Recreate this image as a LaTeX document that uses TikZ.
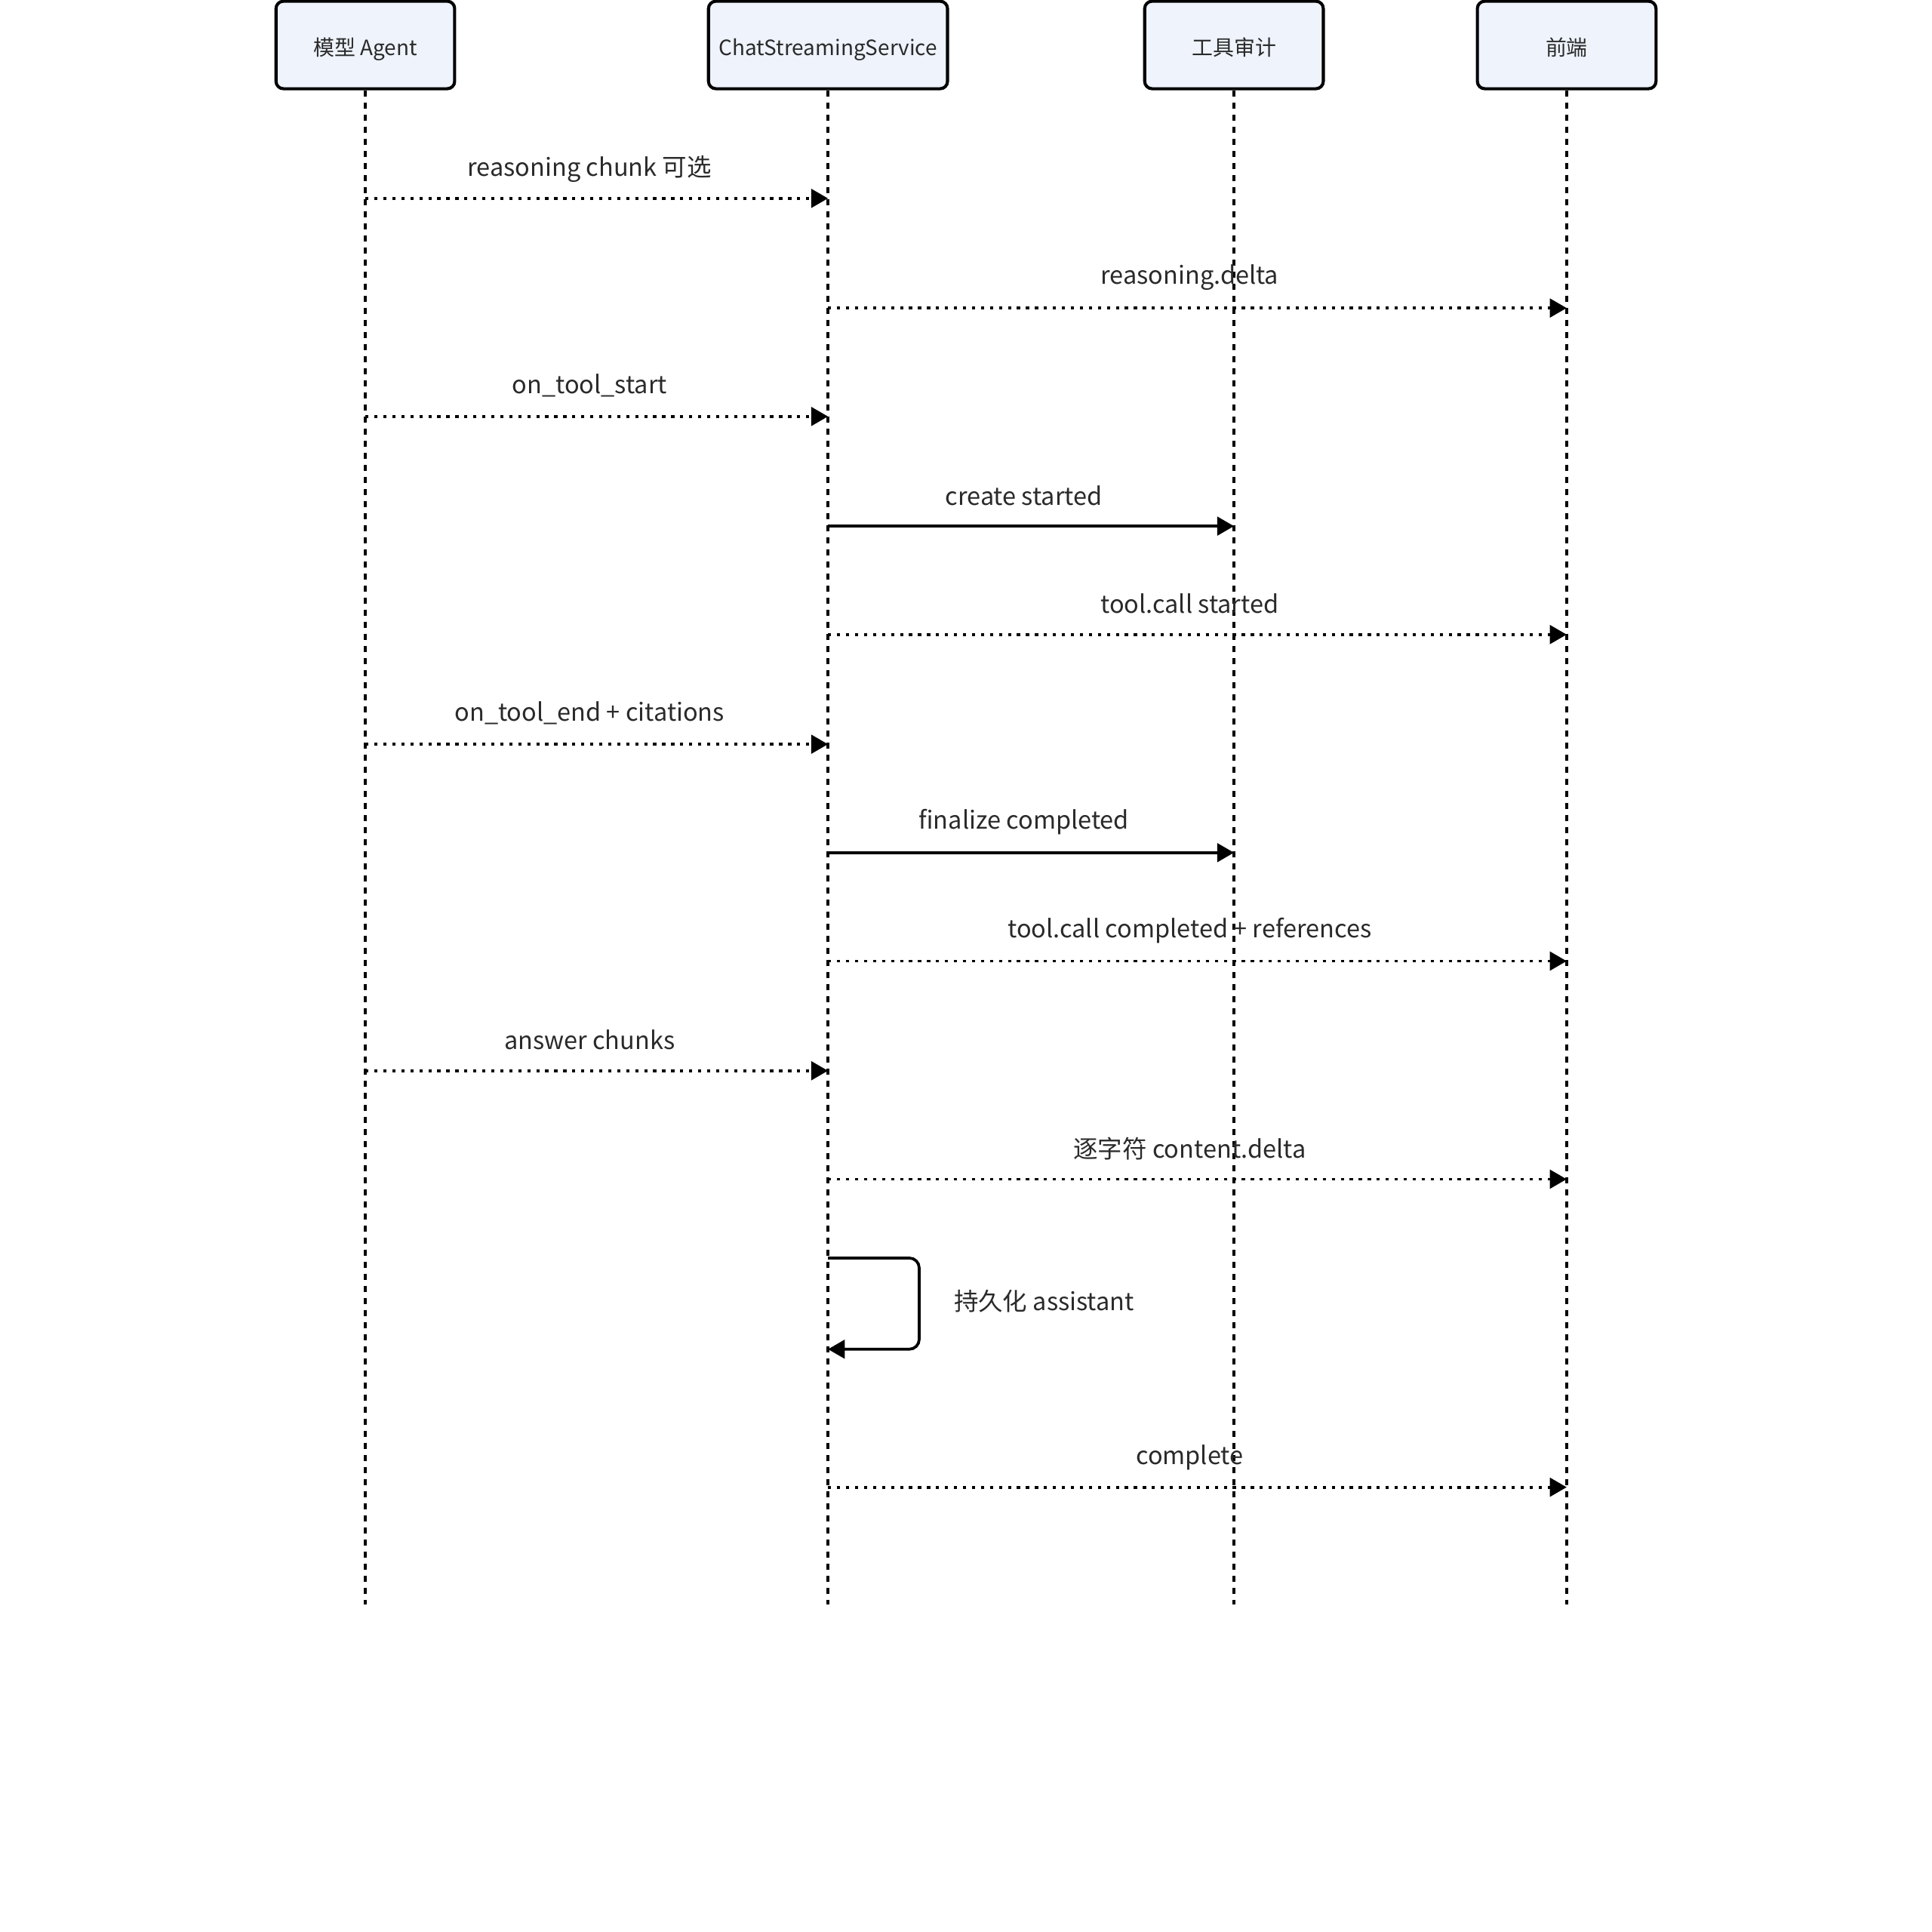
\documentclass[tikz,border=0pt]{standalone}
\usepackage{fontspec}
\setmainfont{Noto Sans CJK SC}
\usetikzlibrary{arrows.meta}
\definecolor{boxfill}{HTML}{EEF3FC}
\definecolor{txt}{HTML}{2A2A2A}
\tikzset{
  actorbox/.style={draw=black, line width=2.5pt, fill=boxfill, rounded corners=6pt,
    minimum height=71pt, inner sep=0pt, text height=17pt, text depth=0pt, text=txt, font=\fontsize{17.1}{21}\selectfont},
  lifeline/.style={line width=2.3pt, dash pattern=on 5pt off 4.8pt},
  msgdot/.style={line width=2.4pt, dash pattern=on 2.6pt off 4.7pt, -{Triangle[length=13.6pt,width=15pt]}},
  msgsolid/.style={line width=2.3pt, -{Triangle[length=13.6pt,width=15pt]}},
  msglabel/.style={text=txt, font=\fontsize{19.9}{24}\selectfont, inner sep=0pt},
}
\begin{document}
\begin{tikzpicture}[x=1pt,y=-1pt]
\useasboundingbox (0,0) rectangle (1568,1568);
% actors
\node[actorbox, minimum width=145pt] (A) at (296.5,36.5) {模型 Agent};
\node[actorbox, minimum width=194pt] (C) at (672,36.5) {ChatStreamingService};
\node[actorbox, minimum width=145pt] (T) at (1001.5,36.5) {工具审计};
\node[actorbox, minimum width=145pt] (F) at (1271.5,36.5) {前端};
% lifeline ends
\coordinate (Ae) at (296.5,1302);
\coordinate (Ce) at (672,1302);
\coordinate (Te) at (1001.5,1302);
\coordinate (Fe) at (1271.5,1302);
\draw[lifeline] (A.south) -- (Ae);
\draw[lifeline] (C.south) -- (Ce);
\draw[lifeline] (T.south) -- (Te);
\draw[lifeline] (F.south) -- (Fe);
% message anchor points
\foreach \n/\y in {1/161,2/250,3/338,4/427,5/515,6/604,7/692,8/780,9/869,10/957,12/1207}{
  \coordinate (a\n) at (296.5,\y);
  \coordinate (c\n) at (672,\y);
  \coordinate (t\n) at (1001.5,\y);
  \coordinate (f\n) at (1271.5,\y);
}
\draw[msgdot] (a1) -- (c1);
\node[msglabel] (l1) at (478.5,137) {reasoning chunk 可选};
\draw[msgdot] (c2) -- (f2);
\node[msglabel] (l2) at (965.5,225) {reasoning.delta};
\draw[msgdot] (a3) -- (c3);
\node[msglabel] (l3) at (478.5,313) {on\_tool\_start};
\draw[msgsolid] (c4) -- (t4);
\node[msglabel] (l4) at (831,402) {create started};
\draw[msgdot] (c5) -- (f5);
\node[msglabel] (l5) at (965.5,490) {tool.call started};
\draw[msgdot] (a6) -- (c6);
\node[msglabel] (l6) at (478.5,579) {on\_tool\_end + citations};
\draw[msgsolid] (c7) -- (t7);
\node[msglabel] (l7) at (831,667) {finalize completed};
\draw[msgdot] (c8) -- (f8);
\node[msglabel] (l8) at (965.5,755) {tool.call completed + references};
\draw[msgdot] (a9) -- (c9);
\node[msglabel] (l9) at (478.5,844) {answer chunks};
\draw[msgdot] (c10) -- (f10);
\node[msglabel] (l10) at (965.5,932) {逐字符 content.delta};
% self loop
\coordinate (s1) at (672,1021);
\coordinate (s2) at (746,1021);
\coordinate (s3) at (746,1095);
\coordinate (s4) at (672,1095);
\draw[msgsolid, rounded corners=8pt] (s1) -- (s2) -- (s3) -- (s4);
\node[msglabel, anchor=west] (l11) at (774,1056) {持久化 assistant};
\draw[msgdot] (c12) -- (f12);
\node[msglabel] (l12) at (965.5,1183) {complete};
\end{tikzpicture}
\end{document}
